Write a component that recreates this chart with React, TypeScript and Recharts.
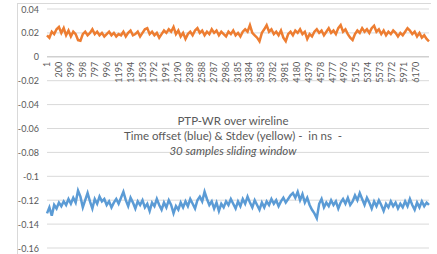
import { LineChart, Line, XAxis, YAxis, CartesianGrid, ReferenceLine, ReferenceDot } from "recharts";

// samples between two plotted points (x axis counts samples)
const sampleStep = 40;
const sampleMax = 6401;

const xTicks = [
  1, 200, 399, 598, 797, 996, 1195, 1394, 1593, 1792, 1991, 2190, 2389, 2588, 2787, 2986,
  3185, 3384, 3583, 3782, 3981, 4180, 4379, 4578, 4777, 4976, 5175, 5374, 5573, 5772, 5971, 6170,
];

const yTicks = [-0.16, -0.14, -0.12, -0.1, -0.08, -0.06, -0.04, -0.02, 0, 0.02, 0.04];

// Stdev (yellow/orange)
const stdev = [
  0.018, 0.016, 0.021, 0.019, 0.023, 0.025, 0.020, 0.024, 0.018, 0.022,
  0.017, 0.021, 0.019, 0.014, 0.0135, 0.019, 0.021, 0.018, 0.020, 0.023,
  0.019, 0.021, 0.018, 0.020, 0.017, 0.019, 0.021, 0.018, 0.020, 0.017,
  0.019, 0.018, 0.021, 0.017, 0.020, 0.022, 0.018, 0.019, 0.021, 0.017,
  0.020, 0.023, 0.024, 0.019, 0.021, 0.018, 0.020, 0.016, 0.019, 0.022,
  0.020, 0.023, 0.021, 0.025, 0.019, 0.022, 0.017, 0.020, 0.015, 0.019,
  0.021, 0.018, 0.022, 0.024, 0.020, 0.022, 0.018, 0.021, 0.019, 0.023,
  0.020, 0.022, 0.018, 0.021, 0.019, 0.017, 0.021, 0.019, 0.022, 0.018,
  0.020, 0.017, 0.021, 0.023, 0.021, 0.0265, 0.020, 0.018, 0.016, 0.013,
  0.020, 0.023, 0.0265, 0.021, 0.023, 0.019, 0.021, 0.018, 0.022, 0.016,
  0.013, 0.019, 0.021, 0.018, 0.022, 0.020, 0.023, 0.019, 0.021, 0.015,
  0.019, 0.017, 0.021, 0.023, 0.020, 0.022, 0.018, 0.021, 0.024, 0.020,
  0.022, 0.019, 0.024, 0.0265, 0.021, 0.023, 0.019, 0.016, 0.014, 0.019,
  0.022, 0.020, 0.024, 0.021, 0.023, 0.020, 0.024, 0.026, 0.021, 0.023,
  0.019, 0.022, 0.018, 0.021, 0.019, 0.022, 0.020, 0.017, 0.020, 0.018,
  0.021, 0.024, 0.022, 0.019, 0.021, 0.017, 0.020, 0.016, 0.018, 0.015,
  0.013,
];

// Time offset (blue)
const offset = [
  -0.131, -0.126, -0.133, -0.124, -0.127, -0.122, -0.125, -0.121, -0.124, -0.119,
  -0.123, -0.118, -0.122, -0.112, -0.117, -0.126, -0.120, -0.114, -0.121, -0.127,
  -0.119, -0.123, -0.117, -0.121, -0.119, -0.124, -0.121, -0.126, -0.122, -0.119,
  -0.123, -0.118, -0.113, -0.120, -0.125, -0.118, -0.122, -0.127, -0.121, -0.124,
  -0.120, -0.126, -0.123, -0.129, -0.122, -0.125, -0.119, -0.124, -0.128, -0.122,
  -0.126, -0.120, -0.124, -0.131, -0.125, -0.128, -0.122, -0.126, -0.121, -0.125,
  -0.119, -0.123, -0.127, -0.120, -0.117, -0.121, -0.113, -0.119, -0.124, -0.121,
  -0.127, -0.122, -0.129, -0.123, -0.126, -0.121, -0.124, -0.119, -0.123, -0.127,
  -0.121, -0.125, -0.119, -0.123, -0.117, -0.122, -0.126, -0.120, -0.124, -0.128,
  -0.122, -0.126, -0.121, -0.124, -0.119, -0.123, -0.120, -0.125, -0.121, -0.118,
  -0.122, -0.119, -0.116, -0.114, -0.118, -0.113, -0.120, -0.115, -0.122, -0.118,
  -0.124, -0.128, -0.131, -0.135, -0.123, -0.119, -0.126, -0.122, -0.125, -0.120,
  -0.124, -0.121, -0.127, -0.122, -0.119, -0.123, -0.118, -0.124, -0.121, -0.116,
  -0.120, -0.114, -0.119, -0.124, -0.118, -0.122, -0.127, -0.121, -0.125, -0.120,
  -0.124, -0.129, -0.123, -0.126, -0.121, -0.125, -0.122, -0.127, -0.123, -0.126,
  -0.121, -0.125, -0.119, -0.124, -0.128, -0.122, -0.126, -0.121, -0.125, -0.122,
  -0.124,
];

const rows = stdev.map((s, i) => ({ x: 1 + i * sampleStep, stdev: s, offset: offset[i] }));

const grey = "#595959";
const font = "Lato, 'Liberation Sans', sans-serif";

const renderYTick = (props: any) => {
  const { x, y, payload } = props;
  return (
    <text
      x={x}
      y={y}
      textAnchor="end"
      dominantBaseline="central"
      fontSize={9}
      fontFamily={font}
      fill={grey}
    >
      {String(payload.value)}
    </text>
  );
};

// x tick labels sit under the zero line (Excel axis crosses at 0)
const renderXTick = (props: any) => {
  const vb = props.viewBox;
  if (!vb) return null;
  const cx = vb.x + (vb.width || 0) / 2;
  const cy = vb.y + (vb.height || 0) / 2 + 5;
  return (
    <text
      x={cx}
      y={cy}
      transform={`rotate(-90 ${cx} ${cy})`}
      textAnchor="end"
      dominantBaseline="central"
      fontSize={9}
      fontFamily={font}
      fill={grey}
    >
      {props.value}
    </text>
  );
};

export default function App() {
  return (
    <div
      style={{
        position: "absolute",
        left: 0,
        top: 0,
        width: 437,
        height: 254,
        background: "#fff",
        overflow: "hidden",
        fontFamily: font,
      }}
    >
      <div
        style={{
          position: "absolute",
          left: 17,
          top: 3,
          width: 413,
          height: 260,
          borderLeft: "1px solid #d9d9d9",
          borderTop: "1px solid #d9d9d9",
        }}
      />
      <LineChart
        width={437}
        height={254}
        data={rows}
        margin={{ top: 9, right: 8, bottom: 6, left: 17 }}
        style={{ position: "absolute", left: 0, top: 0 }}
      >
        <CartesianGrid stroke="#d9d9d9" vertical={false} />
        <XAxis dataKey="x" type="number" domain={[1, sampleMax]} hide />
        <YAxis
          type="number"
          domain={[-0.16, 0.04]}
          ticks={yTicks}
          interval={0}
          width={30}
          tickLine={false}
          axisLine={false}
          tick={renderYTick}
        />
        <ReferenceLine y={0} stroke="#c8c8c8" />
        {xTicks.map((t) => (
          <ReferenceDot
            key={t}
            x={t}
            y={0}
            r={0}
            fill="none"
            stroke="none"
            label={{ value: t, content: renderXTick }}
          />
        ))}
        <Line
          dataKey="stdev"
          stroke="#ED7D31"
          strokeWidth={2.5}
          dot={false}
          isAnimationActive={false}
        />
        <Line
          dataKey="offset"
          stroke="#5B9BD5"
          strokeWidth={2.5}
          dot={false}
          isAnimationActive={false}
        />
      </LineChart>
      <div
        style={{
          position: "absolute",
          left: 83,
          width: 300,
          top: 113,
          textAlign: "center",
          fontSize: 11.5,
          lineHeight: "15px",
          color: grey,
          whiteSpace: "pre",
        }}
      >
        <div>PTP-WR over wireline</div>
        <div>Time offset (blue) &amp; Stdev (yellow) -  in ns  -</div>
        <div style={{ fontStyle: "italic" }}>30 samples sliding window</div>
      </div>
    </div>
  );
}
